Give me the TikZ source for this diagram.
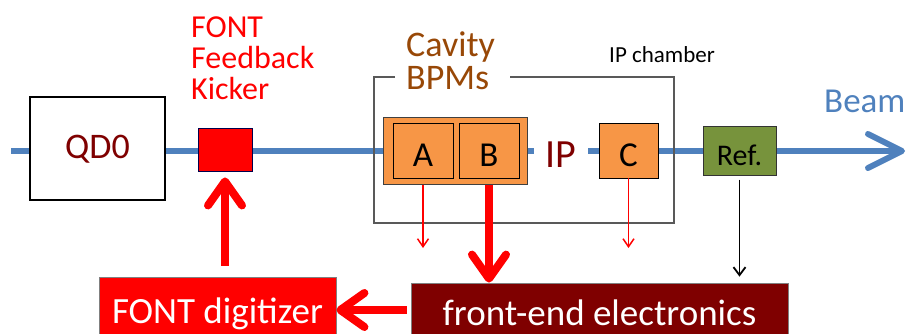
\documentclass[tikz,border=0pt]{standalone}
\usepackage{fontspec}
\setmainfont{Carlito}
\usetikzlibrary{arrows.meta}
\definecolor{beamblue}{HTML}{4F81BD}
\definecolor{darkred}{HTML}{7F0000}
\definecolor{bpmorange}{HTML}{F79646}
\definecolor{bpmbrown}{HTML}{984807}
\definecolor{refgreen}{HTML}{77933C}
\definecolor{chambergray}{HTML}{595959}
\definecolor{fontred}{HTML}{FF0000}
\begin{document}
\begin{tikzpicture}[x=1pt,y=-1pt,
  box/.style={draw, rectangle, inner sep=0pt},
  bpm/.style={box, fill=bpmorange, draw=black, line width=0.9pt, minimum width=60pt, minimum height=55pt,
    font=\fontsize{35}{35}\selectfont, text height=31pt, text depth=0pt},
  fatarrow/.style={draw=fontred, line width=8pt, -{Straight Barb[length=24pt,width=34pt,round]}},
  thinred/.style={draw=fontred, line width=1.5pt, -{Straight Barb[length=8pt,width=11pt]}},
  thinblack/.style={draw=black, line width=1.8pt, -{Straight Barb[length=8pt,width=12pt]}},
  beamline/.style={draw=beamblue, line width=6pt, -{Straight Barb[length=34pt,width=34pt,round]}},
  label/.style={inner sep=0pt}
]
\useasboundingbox (0,0) rectangle (912,333);
\clip (0,0) rectangle (912,333);

% beam
\coordinate (bs) at (11,151);
\coordinate (be) at (905,151);
\draw[beamline] (bs) -- (be);

% IP chamber outline (gap for label)
\draw[chambergray, line width=1.2pt] (395,77) -- (374,77) -- (374,223) -- (674,223) -- (674,77) -- (510,77);

% components
\node[box, fill=white, line width=1.5pt, minimum width=135pt, minimum height=103pt, text=darkred,
  font=\fontsize{36}{36}\selectfont, text height=24pt, text depth=5pt] (qd0) at (97.5,148.5) {QD0};
\node[box, fill=fontred, draw=black!70!blue, line width=0.9pt, minimum width=54pt, minimum height=43pt] (kick) at (225,149.5) {};
\node[label, anchor=north west, align=left, text=fontred, font=\fontsize{32}{31}\selectfont] (kicklabel) at (191,17) {FONT\\Feedback\\Kicker};

\node[box, fill=bpmorange, draw=black!75, line width=1pt, minimum width=144pt, minimum height=67pt] (outer) at (455,150.5) {};
\node[bpm] (A) at (423,150.5) {A};
\node[bpm] (B) at (489,150.5) {B};
\node[bpm, minimum width=59pt] (C) at (628.5,150.5) {C};
\node[fill=white, inner sep=0pt, minimum width=54pt, minimum height=30pt, text=darkred,
  font=\fontsize{40}{40}\selectfont, text height=27pt, text depth=0pt] (ip) at (561,153.5) {IP};
\node[label, anchor=north west, align=left, text=bpmbrown, font=\fontsize{36}{33}\selectfont] (cavlabel) at (406,31.5) {Cavity\\BPMs};
\node[label, anchor=base west, font=\fontsize{23}{23}\selectfont] (chlabel) at (609,62) {IP chamber};

\node[box, fill=refgreen, draw=black!80, line width=1pt, minimum width=73pt, minimum height=49pt,
  font=\fontsize{30}{30}\selectfont, text height=29pt, text depth=0pt] (ref) at (739.5,150.5) {Ref.};
\node[label, anchor=base west, text=beamblue, font=\fontsize{35}{35}\selectfont] (beamlabel) at (824,112) {Beam};

% electronics
\node[box, fill=fontred, draw=gray, line width=0.8pt, minimum width=237pt, text=white,
  font=\fontsize{37}{37}\selectfont, text height=36pt, text depth=10pt, inner ysep=10pt, anchor=base] (dig) at (217.5,323) {FONT digitizer};
\node[box, fill=darkred, draw=gray, line width=0.8pt, minimum width=377pt, text=white,
  font=\fontsize{37}{37}\selectfont, text height=34pt, text depth=10pt, inner ysep=8pt, anchor=base] (fe) at (599.5,325) {front-end electronics};

% signal arrows
\coordinate (aend) at (423,248);
\coordinate (cend) at (628.5,248);
\draw[thinred] (A.south |- outer.south) -- (aend);
\draw[thinred] (C.south) -- (cend);
\draw[fatarrow] (B.south |- outer.south) -- (B.south |- fe.north);
\draw[thinblack, shorten <=4pt, shorten >=6pt] (ref.south) -- (ref.south |- fe.north);
\draw[fatarrow, shorten <=4pt] (fe.west |- dig.east) -- (dig.east);
\draw[fatarrow, shorten <=11pt, shorten >=6pt] (kick.south |- dig.north) -- (kick.south);
\end{tikzpicture}
\end{document}
